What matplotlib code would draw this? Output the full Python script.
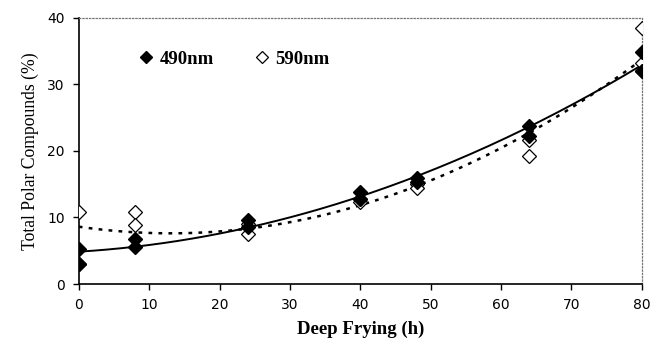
import numpy as np
import matplotlib
matplotlib.use("Agg")
import matplotlib.pyplot as plt

# readings taken off the figure (some 590nm replicates sit under the filled markers)
hours_490 = [0, 0, 8, 8, 24, 24, 40, 40, 48, 48, 64, 64, 80, 80]
tpc_490 = [5.3, 3.0, 6.8, 5.6, 9.6, 8.5, 13.9, 12.8, 16.0, 15.4, 23.7, 22.3, 34.8, 32.0]

hours_590 = [0, 0, 8, 8, 24, 24, 40, 40, 48, 48, 64, 64, 80, 80, 80]
tpc_590 = [10.8, 3.0, 10.8, 8.8, 7.5, 9.0, 12.3, 12.8, 15.1, 14.5, 21.7, 19.2, 38.4, 33.2, 32.0]

xticks = [0, 10, 20, 30, 40, 50, 60, 70, 80]
yticks = [0, 10, 20, 30, 40]

serif = ["Liberation Serif", "DejaVu Serif"]

fig = plt.figure(figsize=(6.51, 3.43), dpi=100)
ax = fig.add_axes([0.121, 0.172, 0.865, 0.776])

# second-order trend lines
xs = np.linspace(0, 80, 200)
p490 = np.polyfit(hours_490, tpc_490, 2)
p590 = np.polyfit(hours_590, tpc_590, 2)
ax.plot(xs, np.polyval(p490, xs), color="black", lw=1.4, zorder=2)
ax.plot(xs, np.polyval(p590, xs), color="black", lw=1.8, ls=(0, (1.5, 2.5)), zorder=2)

ax.plot(hours_590, tpc_590, ls="none", marker="D", ms=7.5, mfc="white", mec="black",
        mew=0.9, label="590nm", zorder=3)
ax.plot(hours_490, tpc_490, ls="none", marker="D", ms=7.5, mfc="black", mec="black",
        label="490nm", zorder=4)

ax.set_xlim(0, 80)
ax.set_ylim(0, 40)
ax.set_xticks(xticks)
ax.set_yticks(yticks)
ax.tick_params(direction="out", length=4, width=1, labelsize=10, pad=6)

for s in ["top", "right"]:
    ax.spines[s].set_linestyle(":")
    ax.spines[s].set_color("#777777")
    ax.spines[s].set_linewidth(0.9)
for s in ["left", "bottom"]:
    ax.spines[s].set_linewidth(1.2)

ax.set_xlabel("Deep Frying (h)", family=serif, fontweight="bold", fontsize=13.5, labelpad=6)
ax.set_ylabel("Total Polar Compounds (%)", family=serif, fontsize=12.7, labelpad=6)

handles, labels = ax.get_legend_handles_labels()
ax.legend(handles[::-1], labels[::-1], loc="upper left", bbox_to_anchor=(0.07, 0.94),
          ncol=2, frameon=False, handletextpad=0.1, columnspacing=2.0, markerscale=0.85,
          handlelength=1.2, prop={"family": serif, "weight": "bold", "size": 13.5})

fig.savefig("out.png", dpi=100)
